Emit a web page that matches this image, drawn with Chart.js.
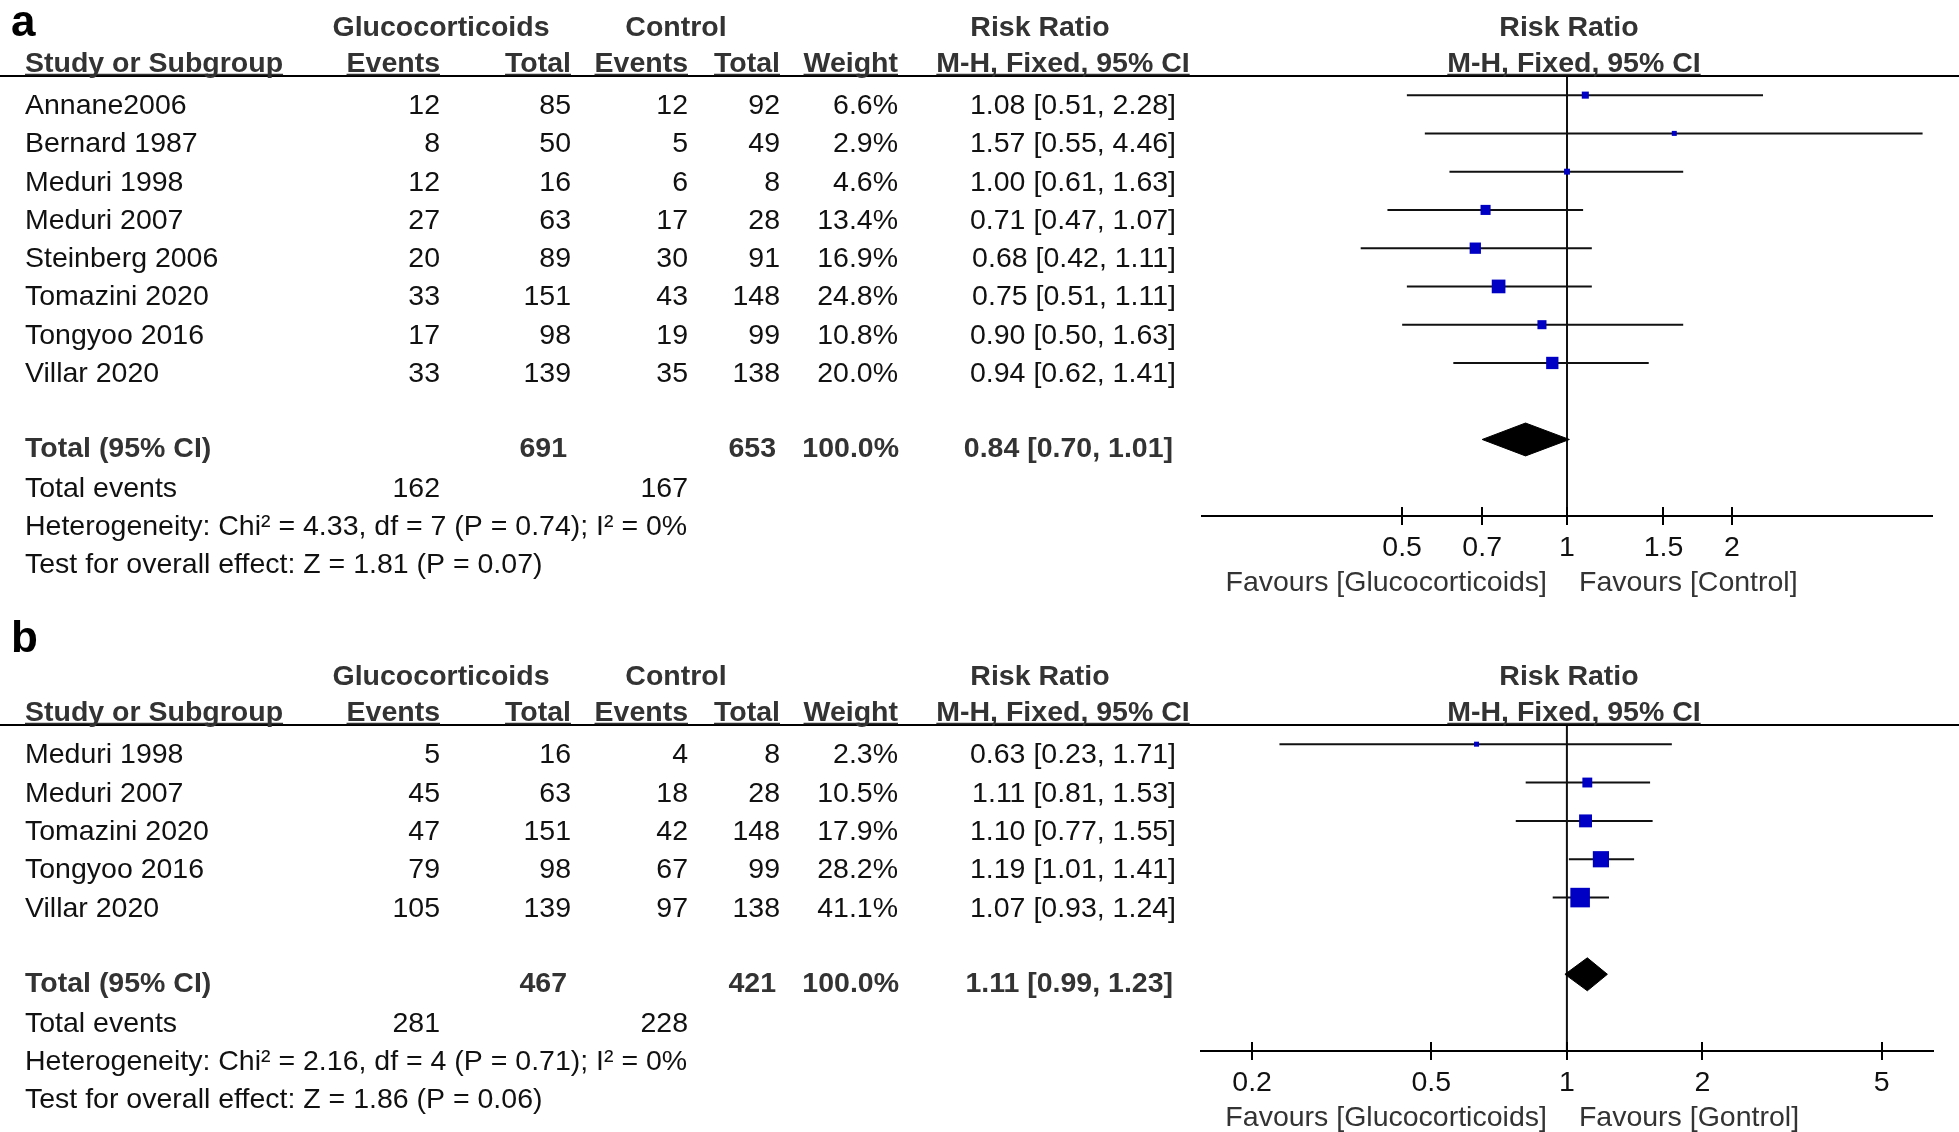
<!DOCTYPE html>
<html>
<head>
<meta charset="utf-8">
<title>Glucocorticoids vs control - forest plots</title>
<script src="https://cdn.jsdelivr.net/npm/chart.js"></script>
<style>
  html, body { margin: 0; padding: 0; background: #fff; }
  #wrap { position: relative; width: 1959px; height: 1132px; }
  canvas { position: absolute; left: 0; }
  #plotA { top: 0; }
  #plotB { top: 620px; }
</style>
</head>
<body>
<div id="wrap">
  <canvas id="plotA" width="1959" height="620"></canvas>
  <canvas id="plotB" width="1959" height="512"></canvas>
</div>
<script>
// ---- panel a ----
var studiesA = ['Annane2006', 'Bernard 1987', 'Meduri 1998', 'Meduri 2007', 'Steinberg 2006', 'Tomazini 2020', 'Tongyoo 2016', 'Villar 2020'];
var gEventsA = [12, 8, 12, 27, 20, 33, 17, 33];
var gTotalA = [85, 50, 16, 63, 89, 151, 98, 139];
var cEventsA = [12, 5, 6, 17, 30, 43, 19, 35];
var cTotalA = [92, 49, 8, 28, 91, 148, 99, 138];
var weightA = [6.6, 2.9, 4.6, 13.4, 16.9, 24.8, 10.8, 20.0];
var rrA = [1.08, 1.57, 1.00, 0.71, 0.68, 0.75, 0.90, 0.94];
var loA = [0.51, 0.55, 0.61, 0.47, 0.42, 0.51, 0.50, 0.62];
var hiA = [2.28, 4.46, 1.63, 1.07, 1.11, 1.11, 1.63, 1.41];
var totalA = { gTotal: 691, cTotal: 653, gEvents: 162, cEvents: 167, rr: 0.84, lo: 0.70, hi: 1.01 };
var hetA = 'Heterogeneity: Chi\u00b2 = 4.33, df = 7 (P = 0.74); I\u00b2 = 0%';
var testA = 'Test for overall effect: Z = 1.81 (P = 0.07)';
var ticksA = [0.5, 0.7, 1, 1.5, 2];

// ---- panel b ----
var studiesB = ['Meduri 1998', 'Meduri 2007', 'Tomazini 2020', 'Tongyoo 2016', 'Villar 2020'];
var gEventsB = [5, 45, 47, 79, 105];
var gTotalB = [16, 63, 151, 98, 139];
var cEventsB = [4, 18, 42, 67, 97];
var cTotalB = [8, 28, 148, 99, 138];
var weightB = [2.3, 10.5, 17.9, 28.2, 41.1];
var rrB = [0.63, 1.11, 1.10, 1.19, 1.07];
var loB = [0.23, 0.81, 0.77, 1.01, 0.93];
var hiB = [1.71, 1.53, 1.55, 1.41, 1.24];
var totalB = { gTotal: 467, cTotal: 421, gEvents: 281, cEvents: 228, rr: 1.11, lo: 0.99, hi: 1.23 };
var hetB = 'Heterogeneity: Chi\u00b2 = 2.16, df = 4 (P = 0.71); I\u00b2 = 0%';
var testB = 'Test for overall effect: Z = 1.86 (P = 0.06)';
var ticksB = [0.2, 0.5, 1, 2, 5];


var FONT = "'Liberation Sans', Arial, sans-serif";
var REG = '28.5px ' + FONT;
var BOLD = 'bold 28.5px ' + FONT;

// right edges of the table columns
var colName = 25, colGEv = 440, colGTot = 571, colCEv = 688, colCTot = 780, colW = 898, colRR = 1176;

function fmtRR(rr, lo, hi) {
  return rr.toFixed(2) + ' [' + lo.toFixed(2) + ', ' + hi.toFixed(2) + ']';
}

function putText(ctx, s, x, y, align, underline) {
  ctx.textAlign = align;
  ctx.fillText(s, x, y);
  if (underline) {
    var w = ctx.measureText(s).width;
    var x0 = align == 'right' ? x - w : (align == 'center' ? x - w / 2 : x);
    ctx.save();
    ctx.strokeStyle = ctx.fillStyle;
    ctx.lineWidth = 1.5;
    ctx.beginPath();
    ctx.moveTo(x0, y + 2.5);
    ctx.lineTo(x0 + w, y + 2.5);
    ctx.stroke();
    ctx.restore();
  }
}

//texts of the table, drawn on the rows of the y scale
function tableText(p) {
  return {
    id: 'tableText',
    afterDraw: function (chart) {
      var ctx = chart.ctx;
      var ys = chart.scales.y;
      var xs = chart.scales.x;
      var n = p.studies.length;
      var lineY = ys.getPixelForValue(-0.5);
      var axisY = chart.chartArea.bottom;
      var nullX = xs.getPixelForValue(1);

      ctx.save();
      ctx.textBaseline = 'alphabetic';

      // header rule
      ctx.strokeStyle = '#000';
      ctx.lineWidth = 2;
      ctx.beginPath();
      ctx.moveTo(0, lineY);
      ctx.lineTo(chart.width, lineY);
      ctx.stroke();

      // upper half of the tick marks
      p.ticks.forEach(function (v) {
        var px = Math.round(xs.getPixelForValue(v));
        ctx.beginPath();
        ctx.moveTo(px, axisY);
        ctx.lineTo(px, axisY - 9);
        ctx.stroke();
      });

      // panel letter
      ctx.fillStyle = '#000';
      ctx.font = 'bold 44px ' + FONT;
      putText(ctx, p.letter, 11, p.letterY, 'left');

      // headers
      ctx.fillStyle = '#333';
      ctx.font = BOLD;
      var h1 = lineY - 40, h2 = lineY - 4;
      putText(ctx, 'Glucocorticoids', 441, h1, 'center');
      putText(ctx, 'Control', 676, h1, 'center');
      putText(ctx, 'Risk Ratio', 1040, h1, 'center');
      putText(ctx, 'Risk Ratio', 1569, h1, 'center');
      putText(ctx, 'Study or Subgroup', colName, h2, 'left', true);
      putText(ctx, 'Events', colGEv, h2, 'right', true);
      putText(ctx, 'Total', colGTot, h2, 'right', true);
      putText(ctx, 'Events', colCEv, h2, 'right', true);
      putText(ctx, 'Total', colCTot, h2, 'right', true);
      putText(ctx, 'Weight', colW, h2, 'right', true);
      putText(ctx, 'M-H, Fixed, 95% CI', 1063, h2, 'center', true);
      putText(ctx, 'M-H, Fixed, 95% CI', 1574, h2, 'center', true);

      // study rows
      ctx.fillStyle = '#111';
      ctx.font = REG;
      for (var i = 0; i < n; i++) {
        var by = ys.getPixelForValue(i) + 19;
        putText(ctx, p.studies[i], colName, by, 'left');
        putText(ctx, String(p.gEvents[i]), colGEv, by, 'right');
        putText(ctx, String(p.gTotal[i]), colGTot, by, 'right');
        putText(ctx, String(p.cEvents[i]), colCEv, by, 'right');
        putText(ctx, String(p.cTotal[i]), colCTot, by, 'right');
        putText(ctx, p.weight[i].toFixed(1) + '%', colW, by, 'right');
        putText(ctx, fmtRR(p.rr[i], p.lo[i], p.hi[i]), colRR, by, 'right');
      }

      // total row
      var ty = ys.getPixelForValue(n + 1) + 18;
      ctx.fillStyle = '#333';
      ctx.font = BOLD;
      putText(ctx, 'Total (95% CI)', colName, ty, 'left');
      putText(ctx, String(p.total.gTotal), colGTot - 4, ty, 'right');
      putText(ctx, String(p.total.cTotal), colCTot - 4, ty, 'right');
      putText(ctx, '100.0%', colW + 1, ty, 'right');
      putText(ctx, fmtRR(p.total.rr, p.total.lo, p.total.hi), colRR - 3, ty, 'right');

      // footer
      ctx.fillStyle = '#111';
      ctx.font = REG;
      var fy = ys.getPixelForValue(n + 2) + 19;
      putText(ctx, 'Total events', colName, fy, 'left');
      putText(ctx, String(p.total.gEvents), colGEv, fy, 'right');
      putText(ctx, String(p.total.cEvents), colCEv, fy, 'right');
      putText(ctx, p.het, colName, ys.getPixelForValue(n + 3) + 19, 'left');
      putText(ctx, p.test, colName, ys.getPixelForValue(n + 4) + 19, 'left');

      // favours labels
      ctx.fillStyle = '#333';
      putText(ctx, 'Favours [Glucocorticoids]', nullX - 20, axisY + 75, 'right');
      putText(ctx, p.favRight, nullX + 12, axisY + 75, 'left');

      ctx.restore();
    }
  };
}

function montaForest(canvasID, p) {
  var n = p.studies.length;
  var datasets = [];

  // boxes, area follows the weight
  datasets.push({
    data: p.rr.map(function (v, i) { return { x: v, y: i }; }),
    pointStyle: 'rect',
    pointRadius: p.weight.map(function (w) {
      var side = Math.max(p.boxScale * Math.sqrt(w), 5);
      return side / (2 * Math.SQRT1_2);
    }),
    pointBackgroundColor: '#0000c4',
    pointBorderWidth: 0,
    order: 0
  });

  // pooled diamond
  var t = n + 1, dh = 0.43;
  datasets.push({
    data: [
      { x: p.total.lo, y: t },
      { x: p.total.rr, y: t - dh },
      { x: p.total.hi, y: t },
      { x: p.total.rr, y: t + dh },
      { x: p.total.lo, y: t }
    ],
    showLine: true,
    fill: 'shape',
    backgroundColor: '#000',
    borderColor: '#000',
    borderWidth: 1,
    pointRadius: 0,
    order: 1
  });

  // confidence intervals
  for (var i = 0; i < n; i++) {
    datasets.push({
      data: [{ x: p.lo[i], y: i }, { x: p.hi[i], y: i }],
      showLine: true,
      borderColor: '#111',
      borderWidth: 2,
      pointRadius: 0,
      order: 2
    });
  }

  // line of no effect
  datasets.push({
    data: [{ x: 1, y: -0.5 }, { x: 1, y: n + 3 }],
    showLine: true,
    borderColor: '#111',
    borderWidth: 2,
    pointRadius: 0,
    order: 3
  });

  var ctx = document.getElementById(canvasID).getContext('2d');
  var chart = new Chart(ctx, {
    type: 'scatter',
    data: { datasets: datasets },
    options: {
      responsive: false,
      animation: false,
      events: [],
      layout: { padding: p.pad },
      plugins: {
        legend: { display: false },
        tooltip: { enabled: false }
      },
      scales: {
        x: {
          type: 'logarithmic',
          position: 'bottom',
          min: p.xMin,
          max: p.xMax,
          bounds: 'data',
          afterBuildTicks: function (s) {
            s.ticks = p.ticks.map(function (v) { return { value: v }; });
          },
          afterFit: function (s) { s.height = 40; },
          ticks: {
            autoSkip: false,
            maxRotation: 0,
            padding: 6,
            color: '#111',
            font: { family: FONT, size: 28.5 },
            callback: function (v) { return String(v); }
          },
          grid: { drawOnChartArea: false, drawTicks: true, tickLength: 9, color: '#000', lineWidth: 2 },
          border: { display: true, color: '#000', width: 2 }
        },
        y: {
          type: 'linear',
          display: false,
          reverse: true,
          bounds: 'data',
          min: -0.5,
          max: n + 3
        }
      }
    },
    plugins: [tableText(p)]
  });
  return chart;
}

montaForest('plotA', {
  letter: 'a', letterY: 36,
  studies: studiesA, gEvents: gEventsA, gTotal: gTotalA, cEvents: cEventsA, cTotal: cTotalA,
  weight: weightA, rr: rrA, lo: loA, hi: hiA, total: totalA, het: hetA, test: testA,
  ticks: ticksA, xMin: 0.2155, xMax: 4.64, boxScale: 2.75,
  favRight: 'Favours [Control]',
  pad: { top: 76, left: 1202, right: 27, bottom: 64 }
});

montaForest('plotB', {
  letter: 'b', letterY: 32,
  studies: studiesB, gEvents: gEventsB, gTotal: gTotalB, cEvents: cEventsB, cTotal: cTotalB,
  weight: weightB, rr: rrB, lo: loB, hi: hiB, total: totalB, het: hetB, test: testB,
  ticks: ticksB, xMin: 0.154, xMax: 6.5, boxScale: 3.05,
  favRight: 'Favours [Gontrol]',
  pad: { top: 105, left: 1201, right: 26, bottom: 41 }
});
</script>
</body>
</html>
